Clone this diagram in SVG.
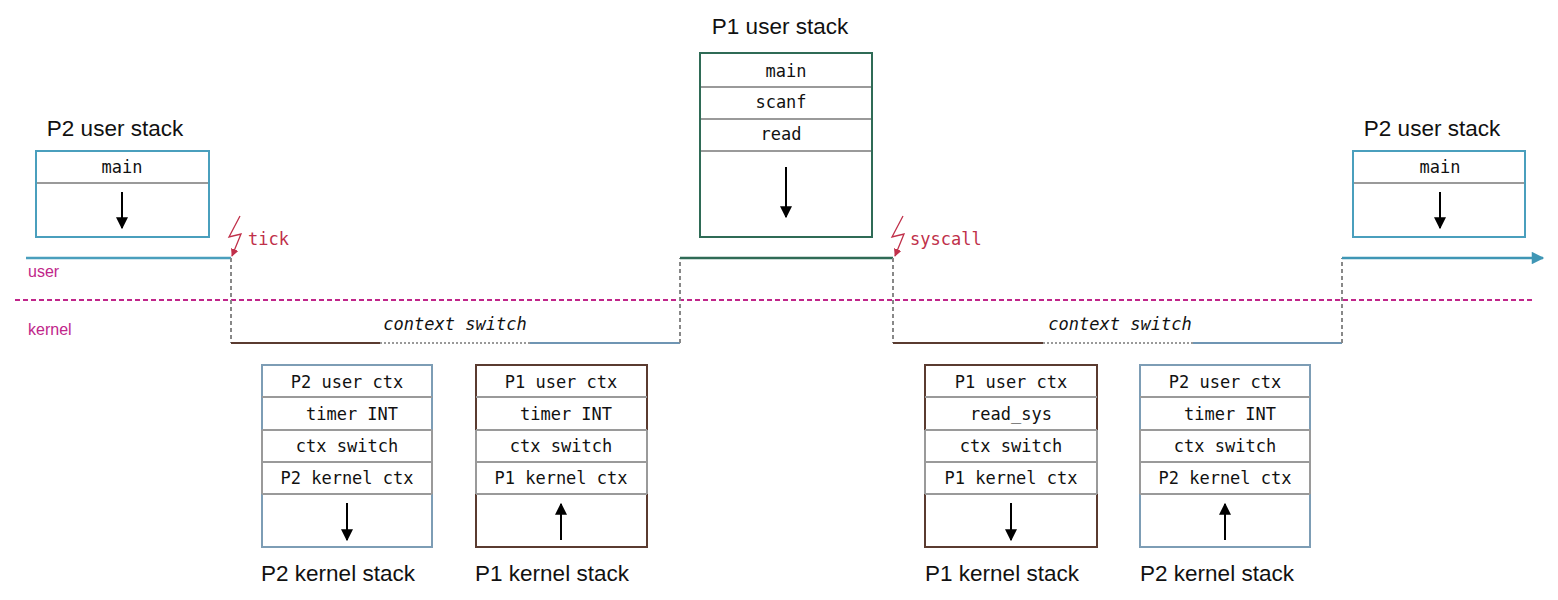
<svg xmlns="http://www.w3.org/2000/svg" width="1558" height="600" viewBox="0 0 1558 600">
<style>
.title{font-family:"Liberation Sans",Arial,sans-serif;font-size:22.5px;fill:#111;text-anchor:middle}
.mono{font-family:"DejaVu Sans Mono",monospace;font-size:17px;fill:#111;text-anchor:middle}
.cs{font-family:"DejaVu Sans Mono",monospace;font-size:17px;font-style:italic;fill:#111;text-anchor:middle}
.ev{font-family:"DejaVu Sans Mono",monospace;font-size:17px;fill:#c0304a}
.lvl{font-family:"Liberation Sans",Arial,sans-serif;font-size:16px;fill:#c0268a}
.row{fill:#fff;stroke:#9a9a9a;stroke-width:2}
.p2u{fill:none;stroke:#4a9fbd;stroke-width:2}
.p1u{fill:none;stroke:#2f6b56;stroke-width:2}
.p2k{fill:none;stroke:#7d9db5;stroke-width:2}
.p1k{fill:none;stroke:#5a3b30;stroke-width:2}
.arr{stroke:#000;stroke-width:2;marker-end:url(#ah)}
.vd{fill:none;stroke:#888;stroke-width:2;stroke-dasharray:4,3}
.hd{fill:none;stroke:#999;stroke-width:2;stroke-dasharray:2,2}
.bolt{fill:none;stroke:#c0304a;stroke-width:1.3;marker-end:url(#rh)}
</style>
<defs>
<marker id="ah" viewBox="0 0 10 10" refX="9" refY="5" markerWidth="6" markerHeight="7" orient="auto" markerUnits="strokeWidth"><path d="M0,0 L10,5 L0,10 Z" fill="#000"/></marker>
<marker id="rh" viewBox="0 0 10 10" refX="9" refY="5" markerWidth="6" markerHeight="6" orient="auto" markerUnits="strokeWidth"><path d="M0,0 L10,5 L0,10 Z" fill="#c0304a"/></marker>
<marker id="bh" viewBox="0 0 10 10" refX="9" refY="5" markerWidth="6" markerHeight="5" orient="auto" markerUnits="strokeWidth"><path d="M0,0 L10,5 L0,10 Z" fill="#3f96b5"/></marker>
</defs>

<g id="connectors">
<line x1="15" y1="300" x2="1535" y2="300" stroke="#c0268a" stroke-width="2" stroke-dasharray="5,3"/>
<line x1="26" y1="258" x2="231" y2="258" stroke="#4a9fbd" stroke-width="2.5"/>
<line x1="231" y1="258" x2="231" y2="343" class="vd"/>
<line x1="231" y1="343" x2="380" y2="343" stroke="#5a3b30" stroke-width="2"/>
<line x1="380" y1="343" x2="530" y2="343" class="hd"/>
<line x1="530" y1="343" x2="680" y2="343" stroke="#6f95b3" stroke-width="2"/>
<line x1="680" y1="343" x2="680" y2="258" class="vd"/>
<line x1="680" y1="258" x2="893" y2="258" stroke="#2f6b56" stroke-width="2.5"/>
<line x1="893" y1="258" x2="893" y2="343" class="vd"/>
<line x1="893" y1="343" x2="1043" y2="343" stroke="#5a3b30" stroke-width="2"/>
<line x1="1043" y1="343" x2="1193" y2="343" class="hd"/>
<line x1="1193" y1="343" x2="1342" y2="343" stroke="#6f95b3" stroke-width="2"/>
<line x1="1342" y1="343" x2="1342" y2="258" class="vd"/>
<line x1="1342" y1="258" x2="1543" y2="258" stroke="#3f96b5" stroke-width="2.5" marker-end="url(#bh)"/>
<path class="bolt" d="M240,216 L229,237 L241,234 L232,256"/>
<path class="bolt" d="M903,216 L892,237 L904,234 L895,256"/>
</g>

<g id="labels">
<text class="lvl" x="28" y="277">user</text>
<text class="lvl" x="28" y="335">kernel</text>
<text class="ev" x="248" y="245">tick</text>
<text class="ev" x="910" y="245">syscall</text>
<text class="cs" x="455" y="330">context switch</text>
<text class="cs" x="1120" y="330">context switch</text>
</g>

<g id="p2-user-stack-left">
<text class="title" x="115" y="136">P2 user stack</text>
<rect class="row" x="36" y="151" width="173" height="32"/>
<rect class="row" x="36" y="183" width="173" height="54"/>
<rect class="p2u" x="36" y="151" width="173" height="86"/>
<text class="mono" x="122" y="173">main</text>
<line class="arr" x1="122" y1="192" x2="122" y2="228"/>
</g>

<g id="p1-user-stack">
<text class="title" x="780" y="34">P1 user stack</text>
<rect class="row" x="700" y="53" width="172" height="34"/>
<rect class="row" x="700" y="87" width="172" height="32"/>
<rect class="row" x="700" y="119" width="172" height="32"/>
<rect class="row" x="700" y="151" width="172" height="86"/>
<rect class="p1u" x="700" y="53" width="172" height="184"/>
<text class="mono" x="786" y="77">main</text>
<text class="mono" x="781" y="108">scanf</text>
<text class="mono" x="781" y="140">read</text>
<line class="arr" x1="786" y1="167" x2="786" y2="217"/>
</g>

<g id="p2-user-stack-right">
<text class="title" x="1432" y="136">P2 user stack</text>
<rect class="row" x="1353" y="151" width="172" height="32"/>
<rect class="row" x="1353" y="183" width="172" height="54"/>
<rect class="p2u" x="1353" y="151" width="172" height="86"/>
<text class="mono" x="1440" y="173">main</text>
<line class="arr" x1="1440" y1="192" x2="1440" y2="228"/>
</g>

<g id="p2-kernel-stack-left">
<rect class="row" x="262" y="365" width="170" height="182"/>
<path class="p2k" d="M262,430 V365 H432 V430"/>
<path class="p2k" d="M262,494 V547 H432 V494"/>
<line x1="262" y1="397" x2="432" y2="397" stroke="#9a9a9a" stroke-width="2"/>
<line x1="262" y1="430" x2="432" y2="430" stroke="#9a9a9a" stroke-width="2"/>
<line x1="262" y1="462" x2="432" y2="462" stroke="#9a9a9a" stroke-width="2"/>
<line x1="262" y1="494" x2="432" y2="494" stroke="#9a9a9a" stroke-width="2"/>
<text class="mono" x="347" y="388">P2 user ctx</text>
<text class="mono" x="352" y="420">timer INT</text>
<text class="mono" x="347" y="452">ctx switch</text>
<text class="mono" x="347" y="484">P2 kernel ctx</text>
<line class="arr" x1="347" y1="503" x2="347" y2="540"/>
<text class="title" x="338" y="581">P2 kernel stack</text>
</g>

<g id="p1-kernel-stack-left">
<rect class="row" x="476" y="365" width="171" height="182"/>
<path class="p1k" d="M476,430 V365 H647 V430"/>
<path class="p1k" d="M476,494 V547 H647 V494"/>
<line x1="476" y1="397" x2="647" y2="397" stroke="#9a9a9a" stroke-width="2"/>
<line x1="476" y1="430" x2="647" y2="430" stroke="#9a9a9a" stroke-width="2"/>
<line x1="476" y1="462" x2="647" y2="462" stroke="#9a9a9a" stroke-width="2"/>
<line x1="476" y1="494" x2="647" y2="494" stroke="#9a9a9a" stroke-width="2"/>
<text class="mono" x="561" y="388">P1 user ctx</text>
<text class="mono" x="566" y="420">timer INT</text>
<text class="mono" x="561" y="452">ctx switch</text>
<text class="mono" x="561" y="484">P1 kernel ctx</text>
<line class="arr" x1="561" y1="540" x2="561" y2="504"/>
<text class="title" x="552" y="581">P1 kernel stack</text>
</g>

<g id="p1-kernel-stack-right">
<rect class="row" x="925" y="365" width="172" height="182"/>
<path class="p1k" d="M925,430 V365 H1097 V430"/>
<path class="p1k" d="M925,494 V547 H1097 V494"/>
<line x1="925" y1="397" x2="1097" y2="397" stroke="#9a9a9a" stroke-width="2"/>
<line x1="925" y1="430" x2="1097" y2="430" stroke="#9a9a9a" stroke-width="2"/>
<line x1="925" y1="462" x2="1097" y2="462" stroke="#9a9a9a" stroke-width="2"/>
<line x1="925" y1="494" x2="1097" y2="494" stroke="#9a9a9a" stroke-width="2"/>
<text class="mono" x="1011" y="388">P1 user ctx</text>
<text class="mono" x="1011" y="420">read_sys</text>
<text class="mono" x="1011" y="452">ctx switch</text>
<text class="mono" x="1011" y="484">P1 kernel ctx</text>
<line class="arr" x1="1011" y1="503" x2="1011" y2="540"/>
<text class="title" x="1002" y="581">P1 kernel stack</text>
</g>

<g id="p2-kernel-stack-right">
<rect class="row" x="1140" y="365" width="170" height="182"/>
<path class="p2k" d="M1140,430 V365 H1310 V430"/>
<path class="p2k" d="M1140,494 V547 H1310 V494"/>
<line x1="1140" y1="397" x2="1310" y2="397" stroke="#9a9a9a" stroke-width="2"/>
<line x1="1140" y1="430" x2="1310" y2="430" stroke="#9a9a9a" stroke-width="2"/>
<line x1="1140" y1="462" x2="1310" y2="462" stroke="#9a9a9a" stroke-width="2"/>
<line x1="1140" y1="494" x2="1310" y2="494" stroke="#9a9a9a" stroke-width="2"/>
<text class="mono" x="1225" y="388">P2 user ctx</text>
<text class="mono" x="1230" y="420">timer INT</text>
<text class="mono" x="1225" y="452">ctx switch</text>
<text class="mono" x="1225" y="484">P2 kernel ctx</text>
<line class="arr" x1="1225" y1="540" x2="1225" y2="504"/>
<text class="title" x="1217" y="581">P2 kernel stack</text>
</g>
</svg>
